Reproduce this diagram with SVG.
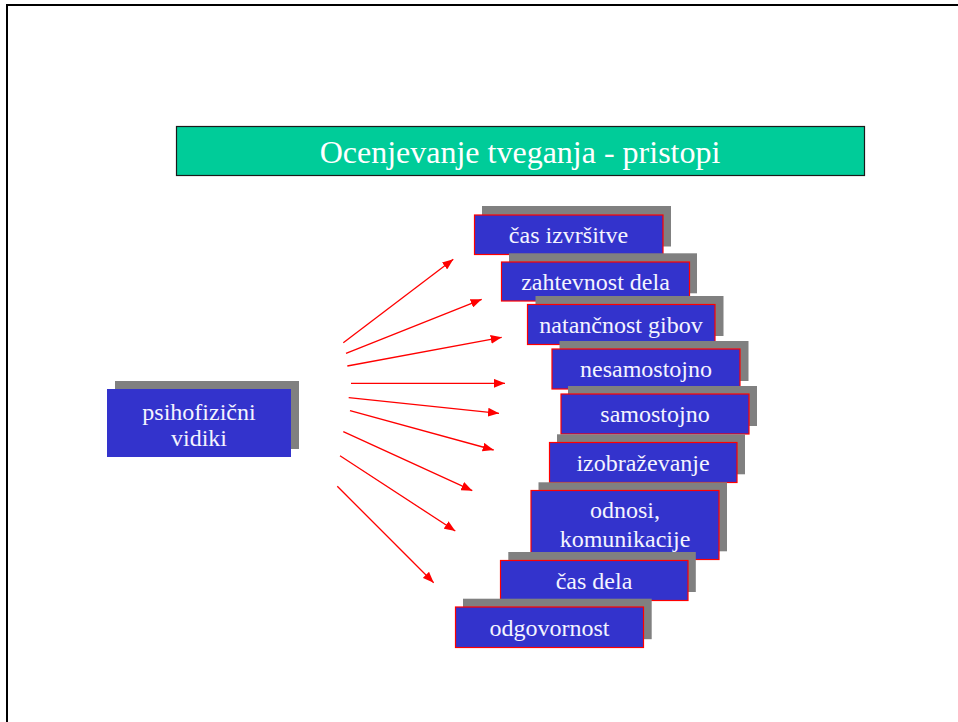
<svg xmlns="http://www.w3.org/2000/svg" width="958" height="722" viewBox="0 0 958 722">
  <defs>
    <marker id="arrow" viewBox="0 0 10 8" refX="10" refY="4" markerWidth="11" markerHeight="9" markerUnits="userSpaceOnUse" orient="auto">
      <path d="M0,0 L10,4 L0,8 Z" fill="#FF0000"/>
    </marker>
  </defs>
  <style>
    .shadow { fill: #808080; }
    .box { fill: #3333CC; stroke: #FF0000; stroke-width: 1.2; }
    .box-plain { fill: #3333CC; }
    .label { font-family: "Liberation Serif", "Times New Roman", serif; font-size: 24px; fill: #F4F4FF; text-anchor: middle; }
    .title { font-family: "Liberation Serif", "Times New Roman", serif; font-size: 32px; fill: #FFFFFF; text-anchor: middle; }
    .conn { stroke: #FF0000; stroke-width: 1.3; fill: none; marker-end: url(#arrow); }
  </style>

  <rect x="0" y="0" width="958" height="722" fill="#FFFFFF"/>
  <!-- page frame -->
  <rect x="7" y="5" width="980" height="740" fill="none" stroke="#000000" stroke-width="2"/>

  <!-- title bar -->
  <g id="title">
    <rect x="176.5" y="126.5" width="688" height="49" fill="#00CC99" stroke="#1A1A1A" stroke-width="1.2"/>
    <text class="title" x="520" y="163">Ocenjevanje tveganja - pristopi</text>
  </g>

  <!-- source node -->
  <g id="psihofizicni">
    <rect class="shadow" x="115" y="381" width="184" height="68"/>
    <rect class="box-plain" x="107" y="389" width="184" height="68"/>
    <text class="label" x="199" y="420">psihofizični</text>
    <text class="label" x="199" y="446">vidiki</text>
  </g>

  <!-- connectors -->
  <g id="connectors">
    <line class="conn" x1="343.3" y1="342.7" x2="453.3" y2="259.3"/>
    <line class="conn" x1="346" y1="353.3" x2="481.7" y2="299.3"/>
    <line class="conn" x1="347.3" y1="366" x2="501.7" y2="337.3"/>
    <line class="conn" x1="351" y1="383.3" x2="505" y2="383.3"/>
    <line class="conn" x1="348.7" y1="397.7" x2="499" y2="413.3"/>
    <line class="conn" x1="350" y1="410.7" x2="493.7" y2="450"/>
    <line class="conn" x1="343.3" y1="431.7" x2="472.3" y2="490.7"/>
    <line class="conn" x1="340" y1="455.7" x2="455.3" y2="531"/>
    <line class="conn" x1="337.3" y1="486.3" x2="433.7" y2="582.7"/>
  </g>

  <!-- target nodes -->
  <g id="cas-izvrsitve">
    <rect class="shadow" x="482" y="206" width="189" height="40.5"/>
    <rect class="box" x="474.5" y="215" width="188.5" height="39.5"/>
    <text class="label" x="568.5" y="243">čas izvršitve</text>
  </g>
  <g id="zahtevnost-dela">
    <rect class="shadow" x="509" y="253.3" width="188" height="40"/>
    <rect class="box" x="501.5" y="262" width="188" height="39"/>
    <text class="label" x="595.5" y="290">zahtevnost dela</text>
  </g>
  <g id="natancnost-gibov">
    <rect class="shadow" x="535.5" y="296" width="188" height="40"/>
    <rect class="box" x="527.5" y="304.5" width="187.5" height="40"/>
    <text class="label" x="621" y="333">natančnost gibov</text>
  </g>
  <g id="nesamostojno">
    <rect class="shadow" x="559.5" y="341" width="189" height="40"/>
    <rect class="box" x="552" y="349" width="188" height="40"/>
    <text class="label" x="646" y="377">nesamostojno</text>
  </g>
  <g id="samostojno">
    <rect class="shadow" x="568" y="386" width="189" height="40"/>
    <rect class="box" x="561" y="394" width="188" height="40"/>
    <text class="label" x="655" y="422">samostojno</text>
  </g>
  <g id="izobrazevanje">
    <rect class="shadow" x="557" y="434.3" width="188" height="40"/>
    <rect class="box" x="549.5" y="442.5" width="187.5" height="40"/>
    <text class="label" x="643" y="471">izobraževanje</text>
  </g>
  <g id="odnosi-komunikacije">
    <rect class="shadow" x="538.5" y="482.3" width="188.5" height="69"/>
    <rect class="box" x="531" y="490.5" width="188" height="69"/>
    <text class="label" x="625" y="518">odnosi,</text>
    <text class="label" x="625" y="547">komunikacije</text>
  </g>
  <g id="cas-dela">
    <rect class="shadow" x="508.3" y="552" width="187.5" height="40"/>
    <rect class="box" x="500.5" y="560.5" width="187.5" height="40"/>
    <text class="label" x="594" y="589">čas dela</text>
  </g>
  <g id="odgovornost">
    <rect class="shadow" x="463" y="598.7" width="188.7" height="40.5"/>
    <rect class="box" x="455.5" y="607" width="188" height="40.5"/>
    <text class="label" x="549.5" y="636">odgovornost</text>
  </g>
</svg>
